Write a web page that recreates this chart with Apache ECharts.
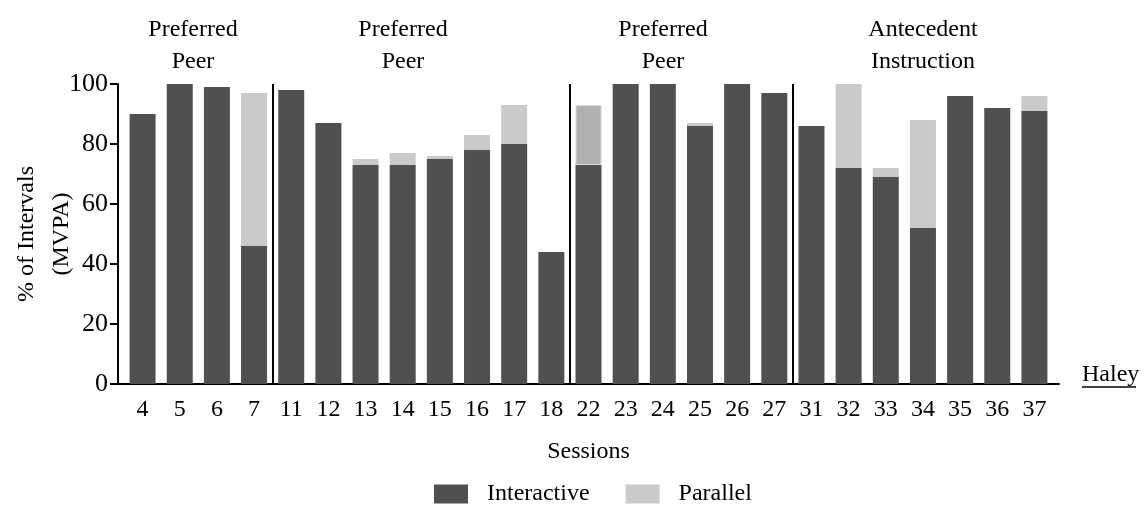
<!DOCTYPE html>
<html><head><meta charset="utf-8">
<script src="https://cdn.jsdelivr.net/npm/echarts@6/dist/echarts.min.js"></script>
<style>html,body{margin:0;padding:0;background:#fff}#c{width:1144px;height:519px}</style>
</head><body><div id="c"></div>
<script>
var sessions = ['4','5','6','7','11','12','13','14','15','16','17','18','22','23','24','25','26','27','31','32','33','34','35','36','37'];
var interactive = [90,100,99,46,98,87,73,73,75,78,80,44,73,100,100,86,100,97,86,72,69,52,96,92,91];
var parallel = [0,0,0,51,0,0,2,4,1,5,13,0,20,0,0,1,0,0,0,28,3,36,0,0,5];
var phaseBreaks = [3.5, 11.5, 17.5];
var phaseLabels = ['Preferred\nPeer','Preferred\nPeer','Preferred\nPeer','Antecedent\nInstruction'];

var FONT = 'Liberation Serif';
var FS = 24;
var DARK = '#505050', LIGHT = '#cacaca', MID = '#b0b0b0';

var chart = echarts.init(document.getElementById('c'));
var parData = parallel.map(function(v,i){
  var d = {value:v};
  if (sessions[i] === '22') d.itemStyle = {color: MID, borderColor:'#d8d8d8', borderWidth:1};
  return d;
});
var labelPos = [193, 403, 663, 923];

chart.setOption({
  animation:false,
  textStyle:{fontFamily:FONT},
  grid:[
    {left:124, right:91, top:84, bottom:135, containLabel:false, outerBoundsMode:'none'},
    {left:118, right:85, top:84, bottom:135, containLabel:false, outerBoundsMode:'none'}
  ],
  xAxis:[{
    type:'category', gridIndex:0, data:sessions, boundaryGap:true,
    axisLine:{show:false},
    axisTick:{alignWithLabel:true, length:8, lineStyle:{color:'#000', width:2}},
    axisLabel:{margin:14, color:'#000', fontSize:FS, fontFamily:FONT, interval:0},
    name:'Sessions', nameLocation:'middle', nameGap:56, nameMoveOverlap:false,
    nameTextStyle:{color:'#000', fontSize:FS, fontFamily:FONT}
  },{
    type:'value', gridIndex:1, min:-0.66, max:24.66,
    splitLine:{show:false},
    axisLine:{show:true, onZero:false, lineStyle:{color:'#000', width:2}},
    axisTick:{show:false}, axisLabel:{show:false}
  }],
  yAxis:[{
    type:'value', gridIndex:0, min:0, max:100, interval:20,
    show:false
  },{
    type:'value', gridIndex:1, min:0, max:100, interval:20,
    splitLine:{show:false},
    axisLine:{show:true, onZero:false, lineStyle:{color:'#000', width:2}},
    axisTick:{show:true, length:8, lineStyle:{color:'#000', width:2}},
    axisLabel:{margin:10, color:'#000', fontSize:26, fontFamily:FONT},
    name:'% of Intervals\n(MVPA)', nameLocation:'middle', nameGap:39, nameMoveOverlap:false,
    nameTextStyle:{color:'#000', fontSize:FS, fontFamily:FONT, lineHeight:35}
  }],
  legend:{
    left:429, top:477, itemWidth:34, itemHeight:19, itemGap:36,
    icon:'rect',
    textStyle:{color:'#000', fontSize:FS, fontFamily:FONT, padding:[0,0,0,14]},
    data:['Interactive','Parallel']
  },
  graphic: phaseLabels.map(function(t,i){
    return {type:'text', x:labelPos[i], y:46, style:{text:t, fill:'#000', font:FS+'px "'+FONT+'"', textAlign:'center', textVerticalAlign:'middle', lineHeight:32}};
  }).concat([
    {type:'text', x:1082, y:375, style:{text:'Haley', fill:'#000', font:FS+'px "'+FONT+'"', textAlign:'left', textVerticalAlign:'middle'}},
    {type:'line', shape:{x1:1082, y1:387, x2:1136, y2:387}, style:{stroke:'#000', lineWidth:1.5}}
  ]),
  series:[
    {name:'Interactive', type:'bar', stack:'s', barWidth:26, data:interactive,
     xAxisIndex:0, yAxisIndex:0, itemStyle:{color:DARK}},
    {name:'Parallel', type:'bar', stack:'s', barWidth:26, data:parData,
     xAxisIndex:0, yAxisIndex:0, itemStyle:{color:LIGHT}},
    {name:'phase', type:'line', xAxisIndex:1, yAxisIndex:1, data:[], silent:true,
     markLine:{symbol:'none', silent:true, label:{show:false},
       lineStyle:{color:'#000', width:2, type:'solid'},
       data: phaseBreaks.map(function(x){return {xAxis:x};})}}
  ]
});
</script></body></html>
